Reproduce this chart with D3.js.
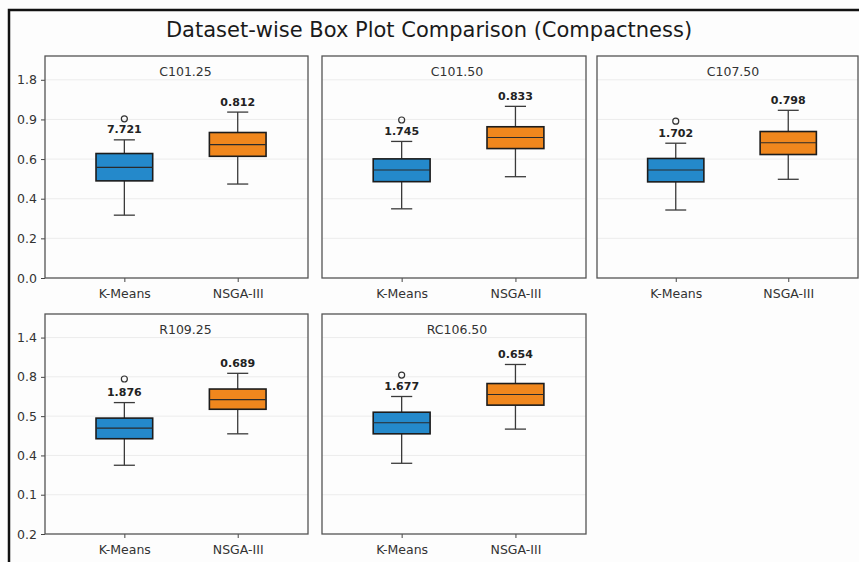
<!DOCTYPE html>
<html>
<head>
<meta charset="utf-8">
<script src="https://cdn.jsdelivr.net/npm/d3@7"></script>
<style>
  body { margin: 0; background: #fff; }
  text { font-family: "DejaVu Sans", sans-serif; }
</style>
</head>
<body>
<div id="chart"></div>
<script>
// data
const datasets = ["C101.25", "C101.50", "C107.50", "R109.25", "RC106.50"];
const methods = ["K-Means", "NSGA-III"];
// [lowWhisker, q1, median, q3, highWhisker] per dataset
const kmeansStats = [
  [0.317, 0.490, 0.558, 0.628, 0.697],
  [0.349, 0.486, 0.545, 0.601, 0.689],
  [0.343, 0.485, 0.545, 0.603, 0.680],
  [0.350, 0.485, 0.539, 0.590, 0.669],
  [0.360, 0.510, 0.566, 0.620, 0.700]
];
const nsgaStats = [
  [0.474, 0.614, 0.673, 0.734, 0.837],
  [0.511, 0.653, 0.709, 0.763, 0.866],
  [0.498, 0.623, 0.682, 0.739, 0.846],
  [0.510, 0.635, 0.684, 0.738, 0.818],
  [0.534, 0.656, 0.710, 0.766, 0.863]
];
const kmeansOutliers = [0.803, 0.797, 0.791, 0.789, 0.809];
const kmeansLabels = ["7.721", "1.745", "1.702", "1.876", "1.677"];
const nsgaLabels = ["0.812", "0.833", "0.798", "0.689", "0.654"];
const yTickValues = [0, 0.2, 0.4, 0.6, 0.8, 1.0];
const yTickLabelsTop = ["0.0", "0.2", "0.4", "0.6", "0.9", "1.8"];
const yTickLabelsBottom = ["0.2", "0.1", "0.4", "0.5", "0.8", "1.4"];

const W = 859, H = 562;
const colors = ["#2489cb", "#f0871d"];

// panel layout
const colX = [[45, 308], [322, 586], [597, 858]];
const rowY = [[56, 278], [314, 534]];
const titleShift = [9, 3, 5.5];

const svg = d3.select("#chart").append("svg")
  .attr("width", W).attr("height", H);

svg.append("rect").attr("width", W).attr("height", H).attr("fill", "#fdfdfd");

// outer frame (only top and left edges fall inside the picture)
svg.append("rect")
  .attr("x", 9).attr("y", 10)
  .attr("width", W + 20).attr("height", H + 20)
  .attr("fill", "none").attr("stroke", "#111").attr("stroke-width", 2.5);

svg.append("text")
  .attr("x", 429).attr("y", 37)
  .attr("text-anchor", "middle")
  .style("font-size", "21px")
  .attr("fill", "#1a1a1a")
  .text("Dataset-wise Box Plot Comparison (Compactness)");

datasets.forEach(function(name, i) {
  const row = i < 3 ? 0 : 1;
  const col = i < 3 ? i : i - 3;
  const x0 = colX[col][0], x1 = colX[col][1];
  const y0 = rowY[row][0], y1 = rowY[row][1];

  const xScale = d3.scaleLinear().domain([0.3, 2.62]).range([x0, x1]);
  const yScale = d3.scaleLinear().domain([0, 1.12]).range([y1, y0]);

  const g = svg.append("g");

  // grid
  g.selectAll("line.grid")
    .data(yTickValues.filter(d => d > 0))
    .enter().append("line")
    .attr("x1", x0).attr("x2", x1)
    .attr("y1", d => yScale(d)).attr("y2", d => yScale(d))
    .attr("stroke", "#ececec").attr("stroke-width", 1);

  // y axis only on the first column
  const labels = row === 0 ? yTickLabelsTop : yTickLabelsBottom;
  const yAxis = d3.axisLeft(yScale)
    .tickValues(yTickValues)
    .tickSize(col === 0 ? 4 : 0)
    .tickFormat((d, k) => col === 0 ? labels[k] : "");
  const ya = g.append("g").attr("transform", "translate(" + x0 + ",0)").call(yAxis);
  ya.select(".domain").remove();
  ya.selectAll("line").attr("stroke", "#444");
  ya.selectAll("text").style("font-size", "12.5px").attr("fill", "#333").attr("dx", "-1");

  // x axis
  const xAxis = d3.axisBottom(xScale)
    .tickValues([1, 2])
    .tickSize(4)
    .tickFormat((d) => methods[d - 1]);
  const xa = g.append("g").attr("transform", "translate(0," + y1 + ")").call(xAxis);
  xa.select(".domain").remove();
  xa.selectAll("line").attr("stroke", "#444");
  xa.selectAll("text").style("font-size", "12.5px").attr("fill", "#333").attr("dy", "1.0em");

  // frame
  g.append("rect")
    .attr("x", x0).attr("y", y0)
    .attr("width", x1 - x0).attr("height", y1 - y0)
    .attr("fill", "none").attr("stroke", "#555").attr("stroke-width", 1.3);

  g.append("text")
    .attr("x", (x0 + x1) / 2 + titleShift[col]).attr("y", y0 + 20)
    .attr("text-anchor", "middle")
    .style("font-size", "12.5px")
    .attr("fill", "#333")
    .text(name);

  const boxes = [
    { pos: 1, s: kmeansStats[i], label: kmeansLabels[i], out: kmeansOutliers[i], color: colors[0] },
    { pos: 2, s: nsgaStats[i], label: nsgaLabels[i], out: null, color: colors[1] }
  ];
  const halfBox = 0.25, halfCap = 0.093;

  boxes.forEach(function(b) {
    const cx = xScale(b.pos);
    // whiskers
    g.append("line")
      .attr("x1", cx).attr("x2", cx)
      .attr("y1", yScale(b.s[0])).attr("y2", yScale(b.s[1]))
      .attr("stroke", "#3a3a3a").attr("stroke-width", 1.3);
    g.append("line")
      .attr("x1", cx).attr("x2", cx)
      .attr("y1", yScale(b.s[3])).attr("y2", yScale(b.s[4]))
      .attr("stroke", "#3a3a3a").attr("stroke-width", 1.3);
    [b.s[0], b.s[4]].forEach(function(v) {
      g.append("line")
        .attr("x1", xScale(b.pos - halfCap)).attr("x2", xScale(b.pos + halfCap))
        .attr("y1", yScale(v)).attr("y2", yScale(v))
        .attr("stroke", "#3a3a3a").attr("stroke-width", 1.3);
    });
    // box
    g.append("rect")
      .attr("x", xScale(b.pos - halfBox))
      .attr("y", yScale(b.s[3]))
      .attr("width", xScale(b.pos + halfBox) - xScale(b.pos - halfBox))
      .attr("height", yScale(b.s[1]) - yScale(b.s[3]))
      .attr("fill", b.color)
      .attr("stroke", "#1c1c1c").attr("stroke-width", 1.6);
    // median
    g.append("line")
      .attr("x1", xScale(b.pos - halfBox)).attr("x2", xScale(b.pos + halfBox))
      .attr("y1", yScale(b.s[2])).attr("y2", yScale(b.s[2]))
      .attr("stroke", "#2a2a2a").attr("stroke-width", 1.1);
    // outlier
    if (b.out !== null) {
      g.append("circle")
        .attr("cx", cx).attr("cy", yScale(b.out)).attr("r", 3)
        .attr("fill", "none").attr("stroke", "#333").attr("stroke-width", 1.2);
    }
    // value label
    g.append("text")
      .attr("x", cx).attr("y", yScale(b.s[4]) - 6.5)
      .attr("text-anchor", "middle")
      .style("font-size", "11px").style("font-weight", "bold")
      .attr("fill", "#222")
      .text(b.label);
  });
});
</script>
</body>
</html>
